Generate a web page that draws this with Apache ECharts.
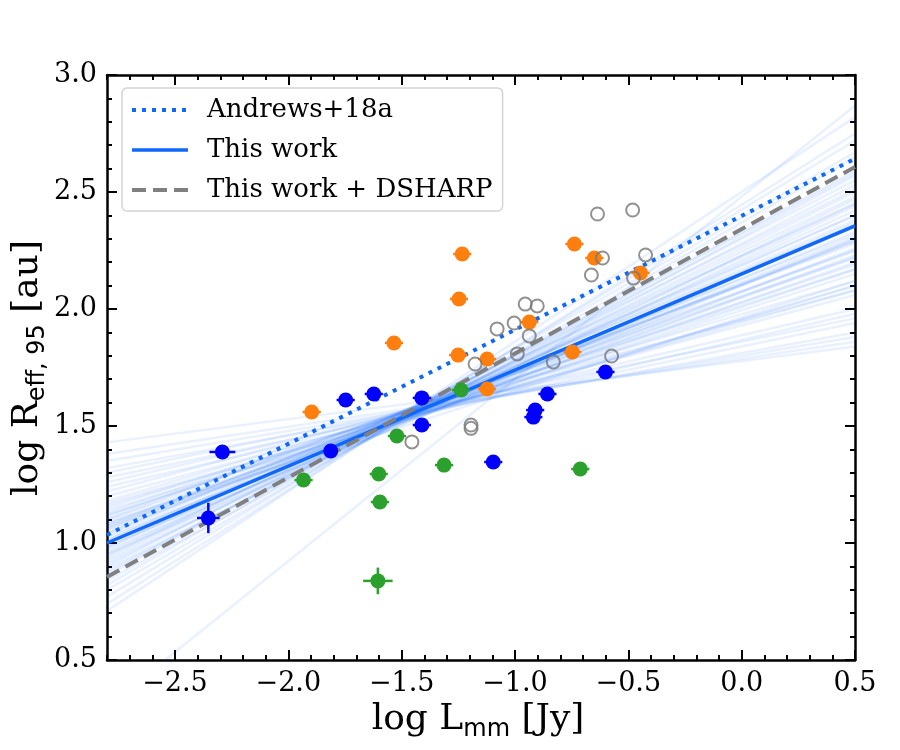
<!DOCTYPE html>
<html>
<head>
<meta charset="utf-8">
<script src="https://cdn.jsdelivr.net/npm/echarts@6/dist/echarts.min.js"></script>
<style>
  html, body { margin: 0; padding: 0; background: #fff; }
  #main { width: 900px; height: 750px; }
</style>
</head>
<body>
<div id="main"></div>
<script>
var dom = document.getElementById("main");
var chart = echarts.init(dom, null, { renderer: 'canvas' });

// axis ticks
var xMajor = [-2.5, -2.0, -1.5, -1.0, -0.5, 0.0, 0.5];
var yMajor = [0.5, 1.0, 1.5, 2.0, 2.5, 3.0];

// blue sample
var blueX = [-2.353, -2.291, -1.813, -1.747, -1.623, -1.411, -1.411, -1.096, -0.857, -0.911, -0.919, -0.601];
var blueY = [1.107, 1.389, 1.393, 1.611, 1.637, 1.620, 1.504, 1.346, 1.637, 1.568, 1.538, 1.731];
var blueXErr = [0.05, 0.057, 0.03, 0.04, 0.04, 0.04, 0.04, 0.04, 0.04, 0.04, 0.04, 0.04];
var blueYErr = [0.065, 0.02, 0.02, 0.02, 0.02, 0.02, 0.02, 0.02, 0.02, 0.02, 0.02, 0.02];

// orange sample
var orangeX = [-1.897, -1.534, -1.251, -1.123, -1.123, -0.747, -1.233, -1.247, -0.738, -0.650, -0.446, -0.937];
var orangeY = [1.560, 1.855, 1.803, 1.786, 1.658, 1.816, 2.235, 2.043, 2.278, 2.218, 2.154, 1.944];
var orangeXErr = [0.04, 0.04, 0.04, 0.04, 0.04, 0.04, 0.04, 0.04, 0.04, 0.04, 0.04, 0.04];
var orangeYErr = [0.02, 0.02, 0.02, 0.02, 0.02, 0.02, 0.02, 0.02, 0.02, 0.02, 0.02, 0.02];

// green sample
var greenX = [-1.933, -1.521, -1.601, -1.596, -1.313, -1.605, -1.238, -0.712];
var greenY = [1.269, 1.457, 1.295, 1.175, 1.333, 0.838, 1.654, 1.316];
var greenXErr = [0.04, 0.04, 0.04, 0.04, 0.04, 0.065, 0.04, 0.04];
var greenYErr = [0.02, 0.02, 0.02, 0.02, 0.02, 0.057, 0.02, 0.02];

// DSHARP (open grey)
var greyX = [-1.176, -0.990, -0.831, -0.574, -0.937, -1.194, -1.194, -1.455, -0.636, -0.481, -0.614, -0.424, -0.663, -0.477, -0.955, -0.902, -1.004, -1.079];
var greyY = [1.765, 1.808, 1.774, 1.799, 1.885, 1.504, 1.490, 1.432, 2.406, 2.423, 2.218, 2.231, 2.145, 2.132, 2.021, 2.013, 1.940, 1.915];

// fit lines, evaluated at the plot edges
var fitX = [-2.8, 0.5];
var andrewsY = [1.034, 2.642];
var thisWorkY = [1.0, 2.355];
var dsharpY = [0.855, 2.607];

// posterior draws (y at left edge, y at right edge)
var fanLeft = [1.43, 1.38, 1.35, 1.32, 1.30, 1.28, 1.26, 1.24, 1.22, 1.20, 1.18, 1.17, 1.15, 1.14, 1.12, 1.11, 1.10, 1.08, 1.07, 1.06,
               1.05, 1.04, 1.02, 1.01, 1.00, 0.98, 0.97, 0.95, 0.94, 0.92, 0.90, 0.88, 0.86, 0.84, 0.82, 0.80, 0.77, 0.74, 0.71, 0.30,
               1.12, 1.08, 1.04, 1.00, 0.96, 0.93, 0.99, 1.03, 1.07, 1.10, 0.95, 0.91, 1.01, 1.06, 0.98, 1.13, 0.89, 1.09, 1.16, 0.87];
var fanRight = [1.84, 1.86, 1.88, 1.90, 1.96, 1.94, 2.00, 1.98, 2.08, 2.06, 2.12, 2.08, 2.17, 2.10, 2.19, 2.25, 2.17, 2.25, 2.29, 2.23,
                2.29, 2.36, 2.31, 2.33, 2.35, 2.40, 2.37, 2.45, 2.51, 2.44, 2.55, 2.53, 2.59, 2.57, 2.67, 2.65, 2.72, 2.75, 2.82, 2.87,
                2.15, 2.22, 2.30, 2.38, 2.42, 2.48, 2.30, 2.26, 2.20, 2.28, 2.36, 2.50, 2.40, 2.32, 2.45, 2.22, 2.47, 2.12, 2.10, 2.58];

var XMIN = -2.8, XMAX = 0.5, YMIN = 0.5, YMAX = 3.0;
var BLUE_LINE = '#0f67fb';

function minorsOf(min, max, majors) {
    var out = [];
    for (var i = Math.round(min * 10); i <= Math.round(max * 10); i++) {
        var v = i / 10;
        if (majors.indexOf(v) === -1) out.push(v);
    }
    return out;
}
var xMinor = minorsOf(XMIN, XMAX, xMajor);
var yMinor = minorsOf(YMIN, YMAX, yMajor);

function fmt(v) {
    return v.toFixed(1).replace('-', '\u2212');
}

function tickAxis(pos, min, max, ticks, len, withLine, withLabel) {
    return {
        type: 'value',
        position: pos,
        min: min,
        max: max,
        axisLine: { show: withLine, onZero: false, lineStyle: { color: '#000', width: 2.5 } },
        axisTick: { show: true, inside: true, length: len, customValues: ticks, lineStyle: { color: '#000', width: 2 } },
        axisLabel: {
            show: withLabel,
            customValues: ticks,
            formatter: fmt,
            color: '#000',
            fontFamily: 'DejaVu Serif',
            fontSize: 27,
            margin: 10
        },
        splitLine: { show: false },
        minorTick: { show: false }
    };
}

function pack(xs, ys, xe, ye) {
    return xs.map(function (x, i) { return [x, ys[i], xe ? xe[i] : 0, ye ? ye[i] : 0]; });
}

function errorSeries(name, color, data) {
    return {
        name: name,
        type: 'custom',
        silent: true,
        z: 5,
        data: data,
        renderItem: function (params, api) {
            var x = api.value(0), y = api.value(1), xe = api.value(2), ye = api.value(3);
            var l = api.coord([x - xe, y]), r = api.coord([x + xe, y]);
            var b = api.coord([x, y - ye]), t = api.coord([x, y + ye]);
            return {
                type: 'group',
                children: [
                    { type: 'line', shape: { x1: l[0], y1: l[1], x2: r[0], y2: r[1] }, style: { stroke: color, lineWidth: 2.5 } },
                    { type: 'line', shape: { x1: b[0], y1: b[1], x2: t[0], y2: t[1] }, style: { stroke: color, lineWidth: 2.5 } }
                ]
            };
        }
    };
}

function dotSeries(name, color, data) {
    return {
        name: name,
        type: 'scatter',
        symbol: 'circle',
        symbolSize: 15,
        z: 6,
        data: data,
        itemStyle: { color: color, opacity: 1 }
    };
}

var series = [];

// faint posterior lines
fanLeft.forEach(function (yl, i) {
    series.push({
        name: 'draw' + i,
        type: 'line',
        symbol: 'none',
        silent: true,
        z: 1,
        clip: true,
        data: [[fitX[0], yl], [fitX[1], fanRight[i]]],
        lineStyle: { color: 'rgba(15,103,251,0.09)', width: 2.5 }
    });
});

var andrewsStyle = { color: BLUE_LINE, width: 4, type: [4, 6] };
var thisWorkStyle = { color: BLUE_LINE, width: 3.5 };
var dsharpStyle = { color: '#808080', width: 4, type: [14, 7] };

series.push({
    name: 'Andrews+18a', type: 'line', symbol: 'none', z: 3,
    data: [[fitX[0], andrewsY[0]], [fitX[1], andrewsY[1]]],
    itemStyle: { color: BLUE_LINE },
    lineStyle: andrewsStyle
});
series.push({
    name: 'This work', type: 'line', symbol: 'none', z: 3,
    data: [[fitX[0], thisWorkY[0]], [fitX[1], thisWorkY[1]]],
    itemStyle: { color: BLUE_LINE },
    lineStyle: thisWorkStyle
});
series.push({
    name: 'This work + DSHARP', type: 'line', symbol: 'none', z: 3,
    data: [[fitX[0], dsharpY[0]], [fitX[1], dsharpY[1]]],
    itemStyle: { color: '#808080' },
    lineStyle: dsharpStyle
});

series.push(errorSeries('blueErr', '#0000ff', pack(blueX, blueY, blueXErr, blueYErr)));
series.push(errorSeries('orangeErr', '#ff7f0e', pack(orangeX, orangeY, orangeXErr, orangeYErr)));
series.push(errorSeries('greenErr', '#2ca02c', pack(greenX, greenY, greenXErr, greenYErr)));

series.push(dotSeries('blue', '#0000ff', pack(blueX, blueY)));
series.push(dotSeries('orange', '#ff7f0e', pack(orangeX, orangeY)));
series.push(dotSeries('green', '#2ca02c', pack(greenX, greenY)));
series.push({
    name: 'DSHARP',
    type: 'scatter',
    symbol: 'circle',
    symbolSize: 13,
    z: 6,
    data: pack(greyX, greyY),
    itemStyle: { color: 'transparent', borderColor: '#777777', borderWidth: 2 }
});

var option = {
    animation: false,
    backgroundColor: '#fff',
    grid: { left: 107, right: 45, top: 75, bottom: 90, containLabel: false },
    xAxis: [
        tickAxis('bottom', XMIN, XMAX, xMajor, 10, true, true),
        tickAxis('bottom', XMIN, XMAX, xMinor, 5, false, false),
        tickAxis('top', XMIN, XMAX, xMajor, 10, true, false),
        tickAxis('top', XMIN, XMAX, xMinor, 5, false, false)
    ],
    yAxis: [
        tickAxis('left', YMIN, YMAX, yMajor, 10, true, true),
        tickAxis('left', YMIN, YMAX, yMinor, 5, false, false),
        tickAxis('right', YMIN, YMAX, yMajor, 10, true, false),
        tickAxis('right', YMIN, YMAX, yMinor, 5, false, false)
    ],
    legend: {
        data: [
            { name: 'Andrews+18a', lineStyle: andrewsStyle, itemStyle: { opacity: 0 } },
            { name: 'This work', lineStyle: thisWorkStyle, itemStyle: { opacity: 0 } },
            { name: 'This work + DSHARP', lineStyle: dsharpStyle, itemStyle: { opacity: 0 } }
        ],
        orient: 'vertical',
        left: 122,
        top: 88,
        itemWidth: 56,
        itemHeight: 14,
        itemGap: 10,
        padding: [7, 10, 6, 8],
        borderColor: '#d4d4d4',
        borderWidth: 1.5,
        borderRadius: 5,
        backgroundColor: 'rgba(255,255,255,0.85)',
        selectedMode: false,
        itemStyle: { opacity: 0 },
        textStyle: {
            fontFamily: 'DejaVu Serif',
            fontSize: 26,
            color: '#000',
            lineHeight: 30,
            padding: [0, 0, 0, 14]
        }
    },
    graphic: [
        {
            type: 'text',
            x: 478,
            y: 720,
            style: {
                text: '{m|log L}{s|mm}{m| [Jy]}',
                align: 'center',
                verticalAlign: 'middle',
                rich: {
                    m: { fontFamily: 'DejaVu Serif', fontSize: 36, fill: '#000', lineHeight: 44, verticalAlign: 'middle' },
                    s: { fontFamily: 'DejaVu Sans', fontSize: 24, fill: '#000', lineHeight: 24, verticalAlign: 'bottom' }
                }
            }
        },
        {
            type: 'text',
            x: 28,
            y: 368,
            rotation: Math.PI / 2,
            style: {
                text: '{m|log R}{s|eff, 95}{m| [au]}',
                align: 'center',
                verticalAlign: 'middle',
                rich: {
                    m: { fontFamily: 'DejaVu Serif', fontSize: 36, fill: '#000', lineHeight: 44, verticalAlign: 'middle' },
                    s: { fontFamily: 'DejaVu Sans', fontSize: 24, fill: '#000', lineHeight: 24, verticalAlign: 'bottom' }
                }
            }
        }
    ],
    series: series
};

chart.setOption(option);
</script>
</body>
</html>
